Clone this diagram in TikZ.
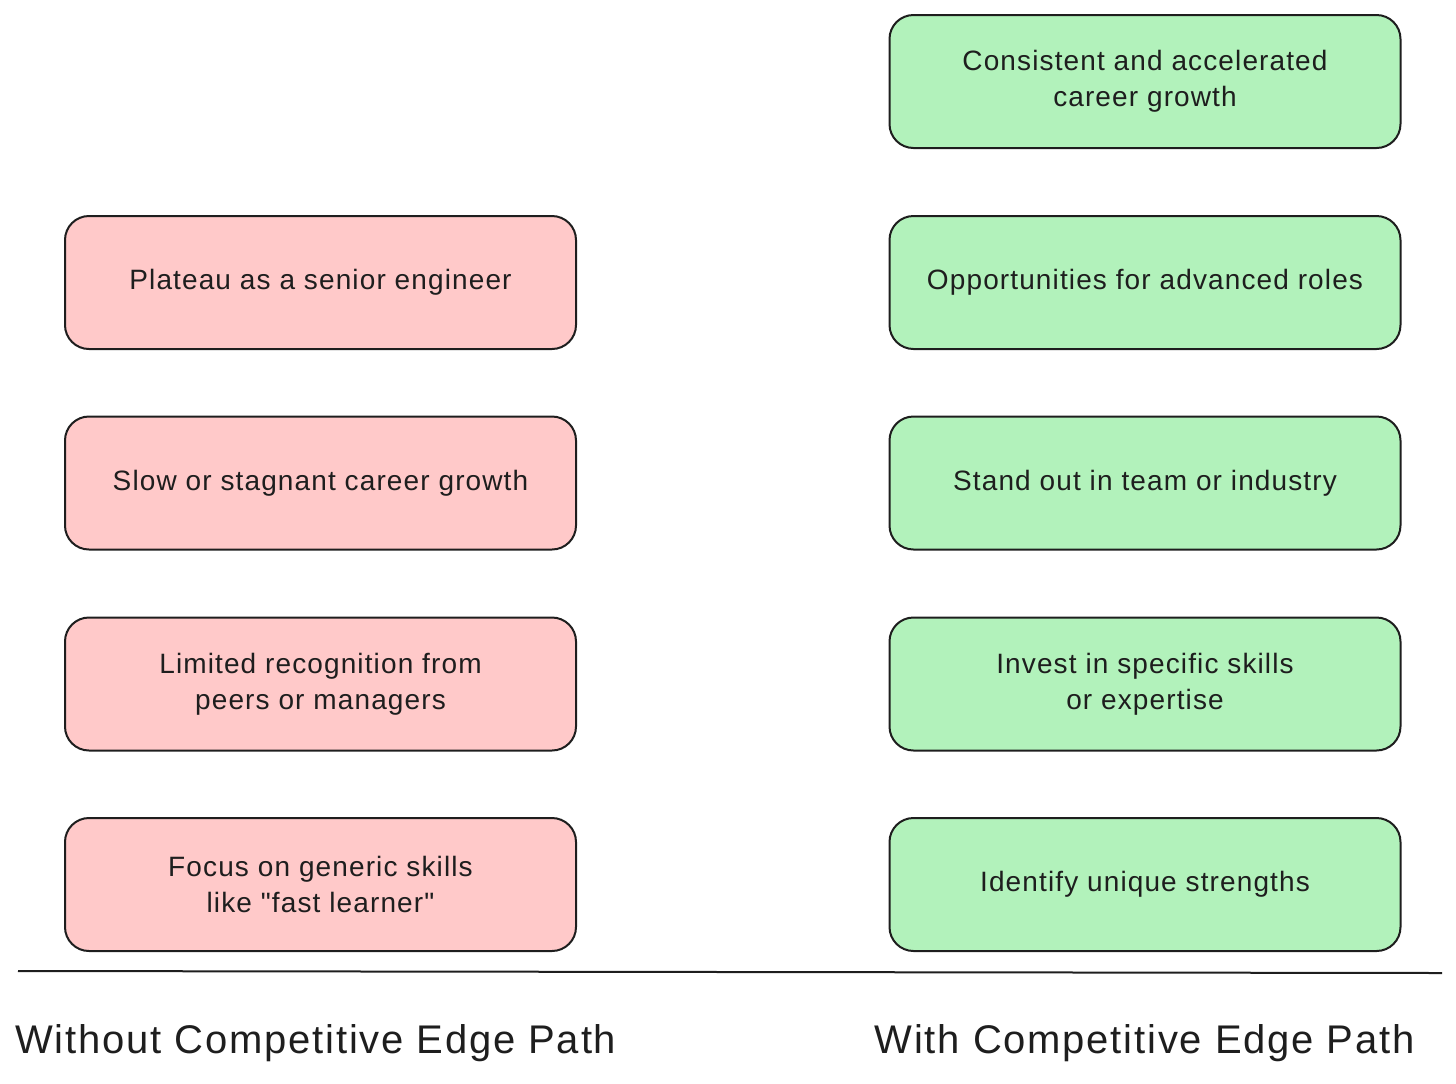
\documentclass[tikz,border=0pt]{standalone}
\usepackage{fontspec}
\setmainfont{Liberation Sans}
\newfontfamily\cardfont[LetterSpace=4]{Liberation Sans}
\newfontfamily\headfont[LetterSpace=4.5]{Liberation Sans}
\definecolor{pinkfill}{HTML}{FFC9C9}
\definecolor{greenfill}{HTML}{B2F2BB}
\definecolor{inkc}{HTML}{1E1E1E}
\begin{document}
\begin{tikzpicture}[x=0.5pt,y=-0.5pt,
  card/.style={draw=inkc, line width=1pt, rounded corners=12pt, minimum width=255.5pt, minimum height=66.5pt, align=center, font=\cardfont\fontsize{14}{18}\selectfont, text=inkc, inner sep=0pt},
  badcard/.style={card, fill=pinkfill},
  goodcard/.style={card, fill=greenfill},
  heading/.style={font=\headfont\fontsize{20}{24}\selectfont, text=inkc, inner sep=0pt}]
\useasboundingbox (0,0) rectangle (1456,1083);
% left column
\node[badcard] (l1) at (320.5,282.5) {Plateau as a senior engineer};
\node[badcard] (l2) at (320.5,483) {Slow or stagnant career growth};
\node[badcard] (l3) at (320.5,684) {Limited recognition from\\peers or managers};
\node[badcard] (l4) at (320.5,884.5) {Focus on generic skills\\like "fast learner"};
% right column
\node[goodcard] (r0) at (1145,81.5) {Consistent and accelerated\\career growth};
\node[goodcard] (r1) at (1145,282.5) {Opportunities for advanced roles};
\node[goodcard] (r2) at (1145,483) {Stand out in team or industry};
\node[goodcard] (r3) at (1145,684) {Invest in specific skills\\or expertise};
\node[goodcard] (r4) at (1145,884.5) {Identify unique strengths};
% baseline
\coordinate (bl) at (18,971);
\coordinate (br) at (1442,973);
\draw[inkc, line width=1pt] (bl) -- (br);
% headings
\node[heading, anchor=west] (hl) at (15,1043) {Without Competitive Edge Path};
\node[heading, anchor=east] (hr) at (1415,1043) {With Competitive Edge Path};
\end{tikzpicture}
\end{document}
